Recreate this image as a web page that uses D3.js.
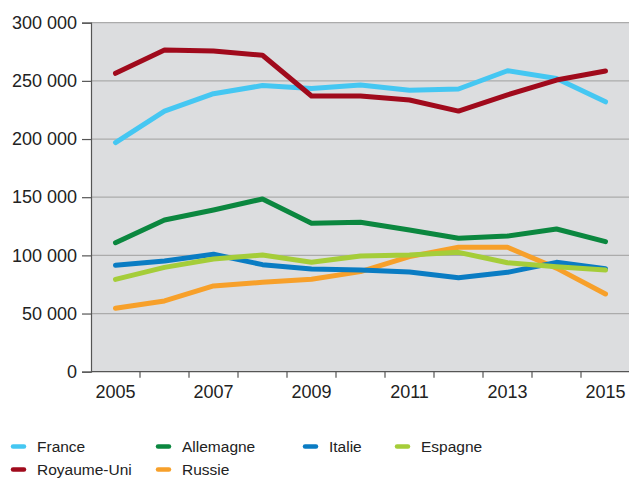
<!DOCTYPE html>
<html><head><meta charset="utf-8">
<script src="https://cdn.jsdelivr.net/npm/d3@7"></script>
<style>body{margin:0;background:#fff;} svg{display:block;font-family:"Liberation Sans",Arial,sans-serif;}</style>
</head><body>
<script>
const years = [2005,2006,2007,2008,2009,2010,2011,2012,2013,2014,2015];
const yTicks = [0,50000,100000,150000,200000,250000,300000];
const xLabels = [2005,2007,2009,2011,2013,2015];
const france = [197000,224000,239000,246000,243500,246500,242000,243000,258700,252000,232000];
const royaumeUni = [256500,276500,275700,272000,237000,237000,233500,224000,238000,250700,258500];
const allemagne = [110900,130400,139000,148500,127600,128400,121800,114700,116600,122700,111800];
const italie = [91500,95200,100900,92000,88300,87400,85700,80800,85400,94000,88500];
const espagne = [79400,89700,96900,100300,94000,99500,100300,102600,93700,90300,87400];
const russie = [54500,60800,73700,76800,79400,86000,98900,107000,107000,89000,66800];

const series = [
  {name:"France", values:france, color:"#45c7f2"},
  {name:"Royaume-Uni", values:royaumeUni, color:"#a00a1c"},
  {name:"Allemagne", values:allemagne, color:"#0b873f"},
  {name:"Russie", values:russie, color:"#f7a02a"},
  {name:"Italie", values:italie, color:"#0a7cc3"},
  {name:"Espagne", values:espagne, color:"#a5cd39"}
];
const legendOrder = [
  {name:"France", col:0,row:0},{name:"Allemagne",col:1,row:0},{name:"Italie",col:2,row:0},{name:"Espagne",col:3,row:0},
  {name:"Royaume-Uni",col:0,row:1},{name:"Russie",col:1,row:1}
];

const W=629,H=478;
const svg=d3.select("body").append("svg").attr("width",W).attr("height",H);
const mLeft=91,mRight=630,mTop=22.7,mBottom=371.7;
const x=d3.scaleBand().domain(years).range([mLeft,mRight]);
const y=d3.scaleLinear().domain([0,300000]).range([mBottom,mTop]);

svg.append("rect").attr("x",mLeft).attr("y",mTop).attr("width",mRight-mLeft).attr("height",mBottom-mTop).attr("fill","#dcdddf");

// gridlines
svg.append("g").selectAll("line").data(yTicks.filter(d=>d>0)).join("line")
  .attr("x1",mLeft).attr("x2",mRight).attr("y1",d=>y(d)).attr("y2",d=>y(d))
  .attr("stroke","#ababab").attr("stroke-width",1.3);

// y axis
const fmt=d=>d===0?"0":d3.format(",")(d).replace(/,/g,"\u00a0");
const ya=svg.append("g").attr("transform",`translate(${mLeft},0)`)
  .call(d3.axisLeft(y).tickValues(yTicks).tickFormat(fmt).tickSize(9).tickPadding(5));
ya.select(".domain").attr("stroke","#555").attr("stroke-width",1.2);
ya.selectAll(".tick line").attr("stroke","#555").attr("stroke-width",1.2);
ya.selectAll(".tick text").attr("font-size","18px").attr("fill","#222").attr("font-family","Liberation Sans, Arial, sans-serif");

// x axis
const xa=svg.append("g").attr("transform",`translate(0,${mBottom})`);
xa.append("line").attr("x1",mLeft).attr("x2",mRight).attr("stroke","#555").attr("stroke-width",1.2);
xa.selectAll("line.t").data(years.slice(1)).join("line").attr("class","t")
  .attr("x1",d=>x(d)).attr("x2",d=>x(d)).attr("y1",0).attr("y2",6).attr("stroke","#555").attr("stroke-width",1.2);
xa.selectAll("text").data(xLabels).join("text")
  .attr("x",d=>x(d)+x.bandwidth()/2).attr("y",26.5).attr("text-anchor","middle")
  .attr("font-size","18px").attr("fill","#222").text(d=>d);

// lines
const line=d3.line().x((d,i)=>x(years[i])+x.bandwidth()/2).y(d=>y(d));
svg.append("g").selectAll("path").data(series).join("path")
  .attr("d",d=>line(d.values)).attr("fill","none").attr("stroke",d=>d.color)
  .attr("stroke-width",5).attr("stroke-linecap","round").attr("stroke-linejoin","round");

// legend
const colX=[12,157,304,396], rowY=[446.5,469.5];
const lg=svg.append("g").selectAll("g").data(legendOrder).join("g")
  .attr("transform",d=>`translate(${colX[d.col]},${rowY[d.row]})`);
lg.append("line").attr("x1",1).attr("x2",12).attr("y1",0).attr("y2",0)
  .attr("stroke",d=>series.find(s=>s.name===d.name).color).attr("stroke-width",4.5).attr("stroke-linecap","round");
lg.append("text").attr("x",25).attr("y",0).attr("dy","0.35em").attr("font-size","15.5px").attr("fill","#222").text(d=>d.name);
</script>
</body></html>
